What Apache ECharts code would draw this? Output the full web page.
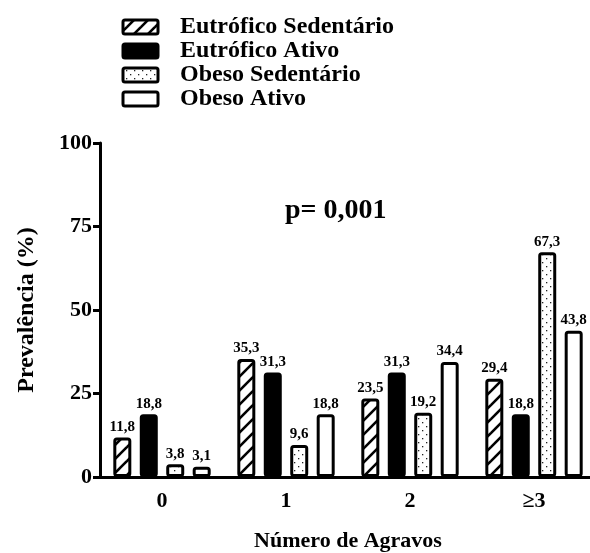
<!DOCTYPE html>
<html><head><meta charset="utf-8">
<script src="https://cdn.jsdelivr.net/npm/echarts@6/dist/echarts.min.js"></script>
<style>html,body{margin:0;padding:0;background:#fff}#c{width:590px;height:553px}</style>
</head><body><div id="c"></div>
<script>
const categories = ['0', '1', '2', '≥3'];
const seriesNames = ['Eutrófico Sedentário', 'Eutrófico Ativo', 'Obeso Sedentário', 'Obeso Ativo'];
const eutroficoSedentario = [11.8, 35.3, 23.5, 29.4];
const eutroficoAtivo = [18.8, 31.3, 31.3, 18.8];
const obesoSedentario = [3.8, 9.6, 19.2, 67.3];
const obesoAtivo = [3.1, 18.8, 34.4, 43.8];
const yTicks = [0, 25, 50, 75, 100];

function hatchTile() {
  const c = document.createElement('canvas'); c.width = 14; c.height = 14;
  const g = c.getContext('2d'); g.fillStyle = '#fff'; g.fillRect(0,0,14,14);
  g.strokeStyle = '#000'; g.lineWidth = 2.6; g.lineCap = 'square';
  g.beginPath(); g.moveTo(-2,16); g.lineTo(16,-2); g.stroke();
  g.beginPath(); g.moveTo(-9,9); g.lineTo(9,-9); g.stroke();
  g.beginPath(); g.moveTo(5,23); g.lineTo(23,5); g.stroke();
  return c;
}
function dotTile() {
  const c = document.createElement('canvas'); c.width = 8; c.height = 8;
  const g = c.getContext('2d'); g.fillStyle = '#fff'; g.fillRect(0,0,8,8);
  g.fillStyle = '#222'; g.fillRect(2,2,1.3,1.3); g.fillRect(6,6,1.3,1.3);
  return c;
}
const fills = [{image: hatchTile(), repeat: 'repeat'}, '#000', {image: dotTile(), repeat: 'repeat'}, '#fff'];
const values = [eutroficoSedentario, eutroficoAtivo, obesoSedentario, obesoAtivo];
const font = 'Liberation Serif';

const legendGraphics = [];
seriesNames.forEach((n, i) => {
  const cy = 27 + i * 24;
  legendGraphics.push({
    type: 'rect', shape: {x: 123, y: cy - 7, width: 35, height: 14, r: 2},
    style: {fill: fills[i], stroke: '#000', lineWidth: 3}
  });
  legendGraphics.push({
    type: 'text', x: 180, y: cy,
    style: {text: n, font: 'bold 24px "Liberation Serif"', fill: '#000', verticalAlign: 'middle', align: 'left'}
  });
});

const chart = echarts.init(document.getElementById('c'), null, {renderer: 'canvas'});
chart.setOption({
  animation: false,
  backgroundColor: '#fff',
  grid: {left: 100, top: 143, width: 496, height: 334, outerBoundsMode: 'none', containLabel: false},
  xAxis: {
    type: 'category', data: categories,
    axisLine: {lineStyle: {color: '#000', width: 3}},
    axisTick: {alignWithLabel: true, length: 7, lineStyle: {color: '#000', width: 3}},
    axisLabel: {fontFamily: font, fontWeight: 'bold', fontSize: 22, color: '#000', margin: 13},
    name: 'Número de Agravos', nameLocation: 'middle', nameGap: 53,
    nameTextStyle: {fontFamily: font, fontWeight: 'bold', fontSize: 22, color: '#000'}
  },
  yAxis: {
    type: 'value', min: 0, max: 100, interval: 25,
    axisLine: {show: true, lineStyle: {color: '#000', width: 3}},
    axisTick: {show: true, length: 7, lineStyle: {color: '#000', width: 3}},
    splitLine: {show: false},
    axisLabel: {fontFamily: font, fontWeight: 'bold', fontSize: 22, color: '#000', margin: 8},
    name: 'Prevalência (%)', nameLocation: 'middle', nameGap: 61, nameRotate: 90,
    nameTextStyle: {fontFamily: font, fontWeight: 'bold', fontSize: 24, color: '#000'}
  },
  graphic: legendGraphics.concat([{
    type: 'text', left: 285, top: 197,
    style: {text: 'p= 0,001', font: 'bold 28px "Liberation Serif"', fill: '#000'}
  }]),
  series: seriesNames.map((n, i) => ({
    name: n, type: 'bar', data: values[i], barWidth: 18, barGap: '47%',
    itemStyle: {color: fills[i], borderColor: '#000', borderWidth: 3, borderRadius: 2},
    label: {show: true, position: 'top', distance: 3, fontFamily: font, fontWeight: 'bold', fontSize: 15, color: '#000',
      formatter: p => String(p.value).replace('.', ',')}
  }))
});
</script></body></html>
